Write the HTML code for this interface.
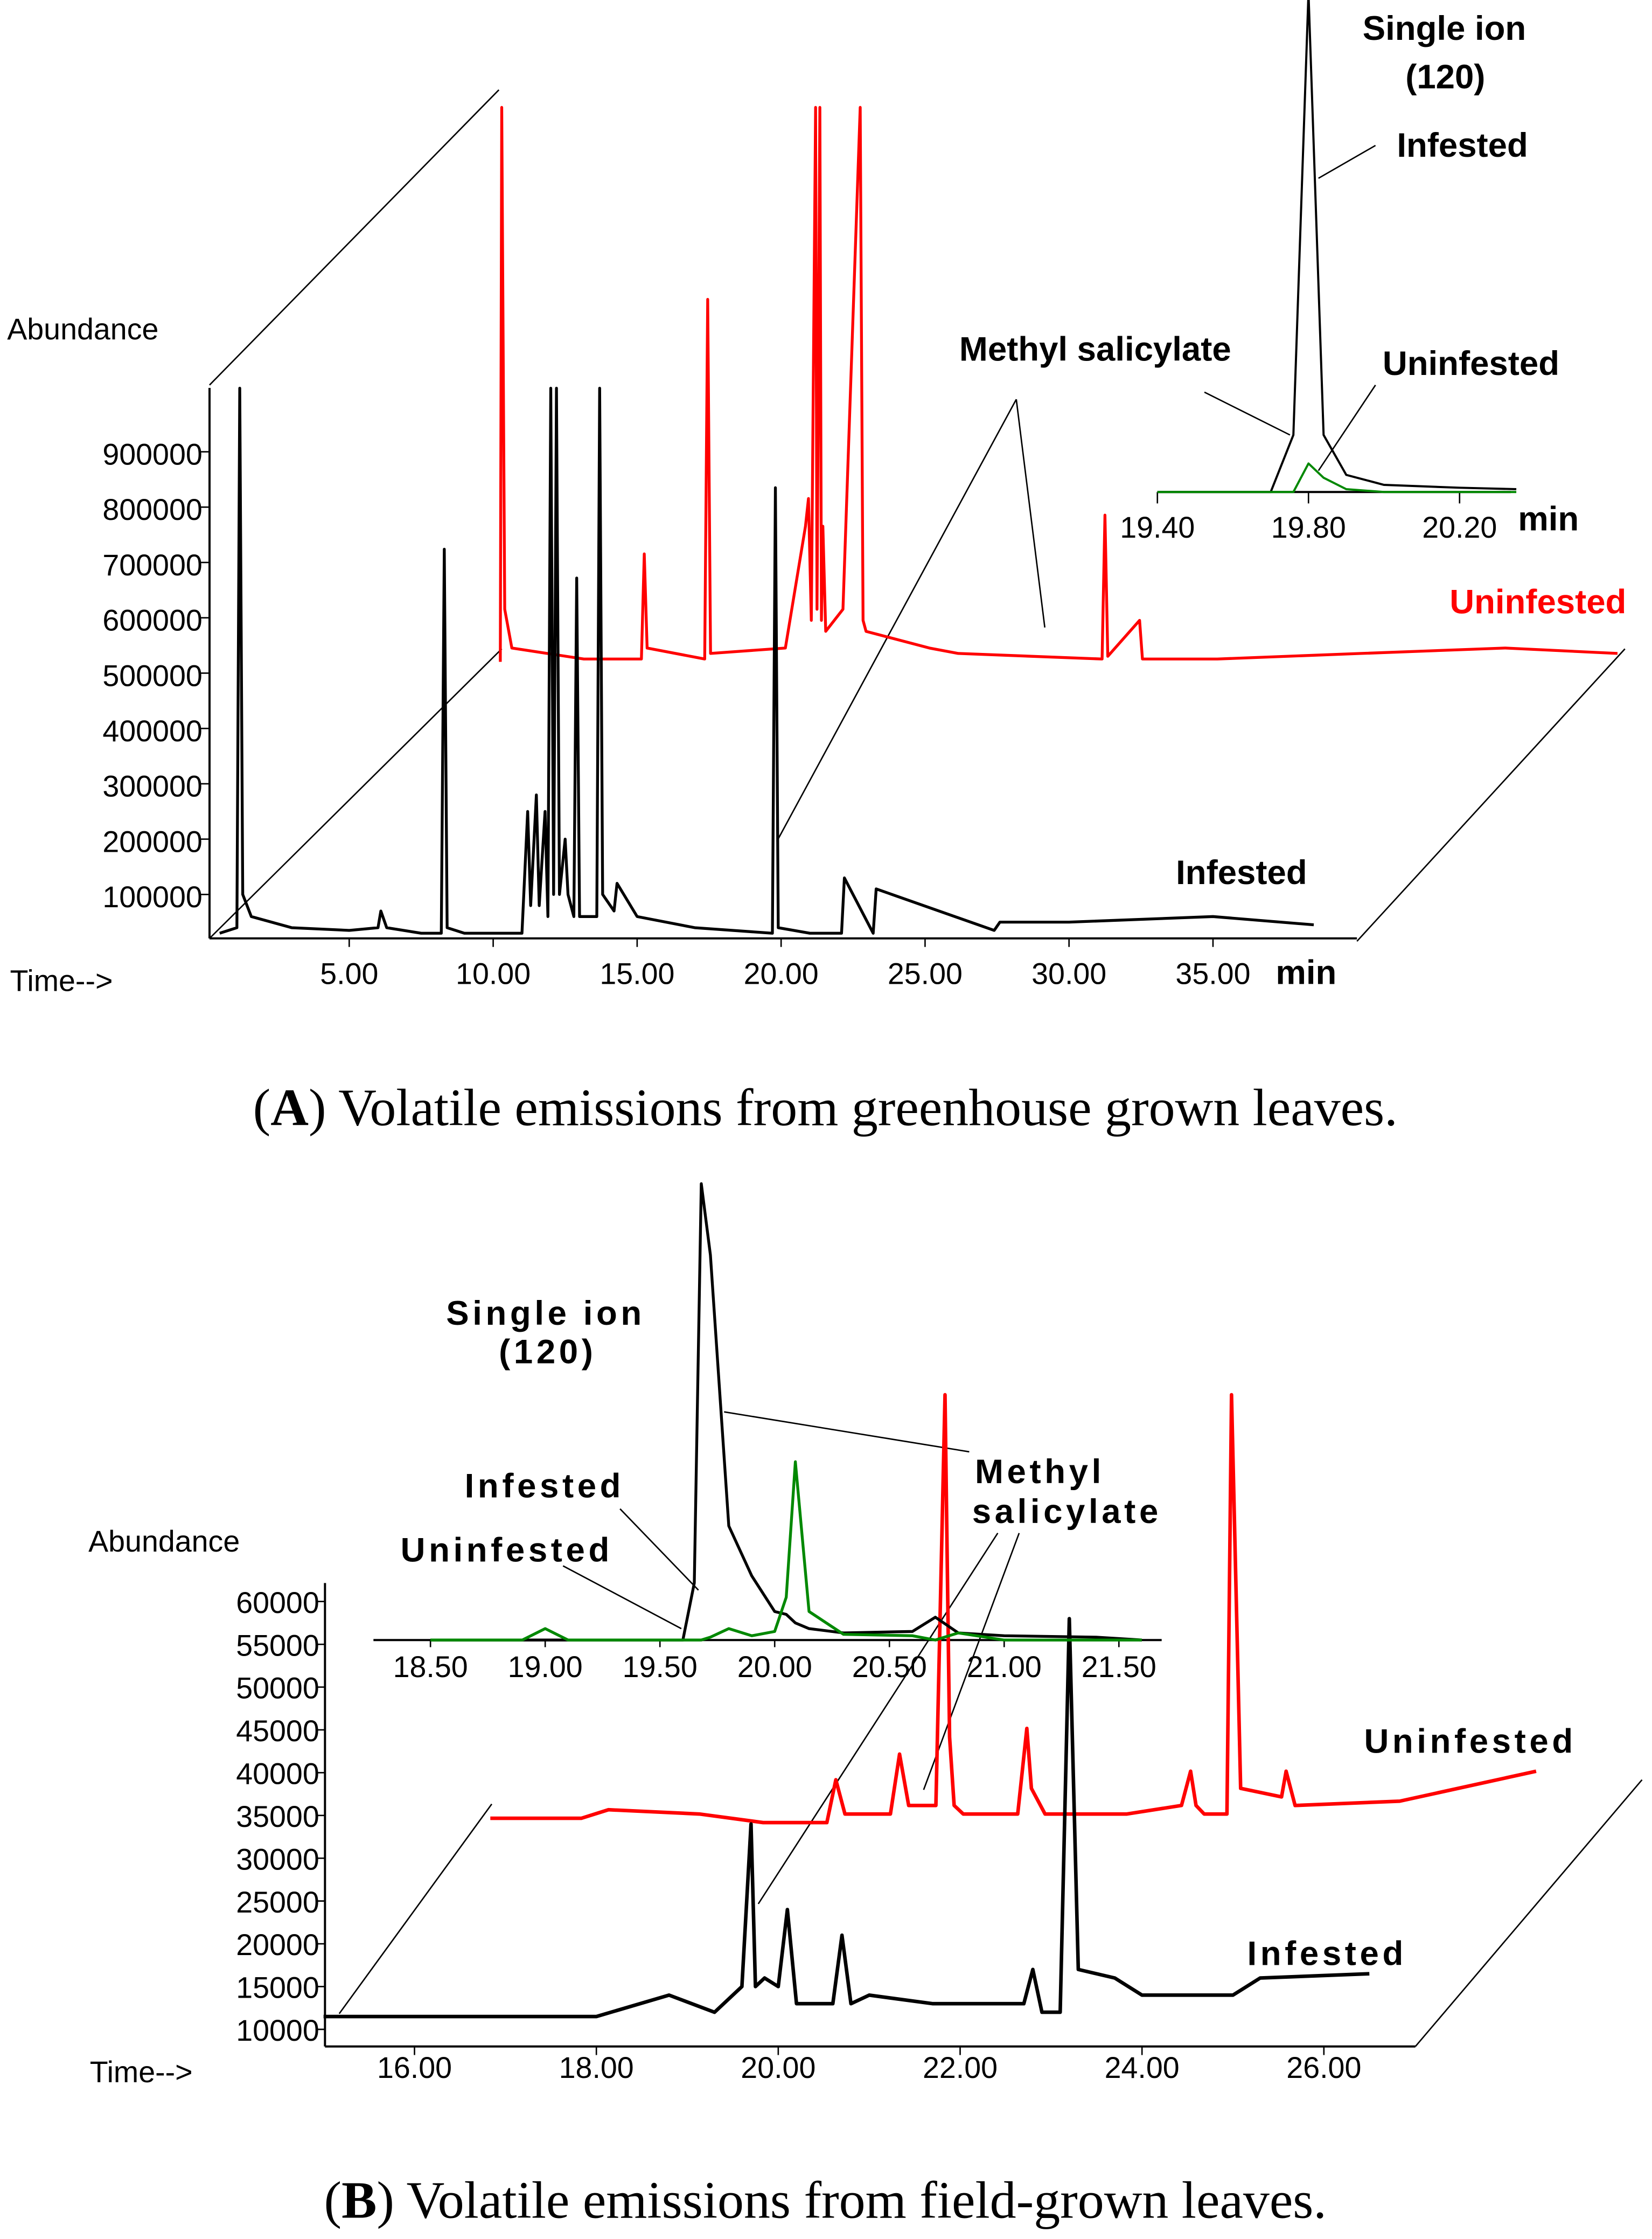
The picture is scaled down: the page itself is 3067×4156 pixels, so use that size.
<!DOCTYPE html>
<html><head><meta charset="utf-8"><style>
html,body{margin:0;padding:0;background:#fff;}
svg{display:block;}
.t{font-family:"Liberation Sans",sans-serif;font-size:21px;fill:#000;}
.b{font-family:"Liberation Sans",sans-serif;font-size:24px;font-weight:bold;fill:#000;}
.bb{font-family:"Liberation Sans",sans-serif;font-size:24px;font-weight:bold;fill:#000;letter-spacing:2.5px;}
.c{font-family:"Liberation Serif",serif;font-size:37px;fill:#000;}
</style></head><body>
<svg id="s" width="3067" height="4156" viewBox="0 0 1159 1570" preserveAspectRatio="none" xmlns="http://www.w3.org/2000/svg">
<g id="gA">
<text class="t" x="5" y="238">Abundance</text>
<text class="t" x="7" y="695">Time--&gt;</text>
<text class="b" x="895" y="690">min</text>
<line x1="147" y1="272" x2="147" y2="658" stroke="#000" stroke-width="1.5"/>
<line x1="147" y1="658" x2="952" y2="658" stroke="#000" stroke-width="1.5"/>
<line x1="147" y1="270" x2="350" y2="63" stroke="#000"/>
<line x1="147" y1="658" x2="352" y2="455" stroke="#000"/>
<line x1="952" y1="660" x2="1140" y2="455" stroke="#000"/>
<text class="b" x="825" y="620">Infested</text>
<text class="b" x="1017" y="430" style="fill:#f00">Uninfested</text>
<text class="b" x="673" y="253">Methyl salicylate</text>
<polyline points="713,280 545,590" fill="none" stroke="#000"/>
<polyline points="713,280 733,440" fill="none" stroke="#000"/>
<text class="b" x="956" y="28">Single ion</text>
<text class="b" x="986" y="62">(120)</text>
<text class="b" x="980" y="110">Infested</text>
<text class="b" x="970" y="263">Uninfested</text>
<line x1="925" y1="125" x2="965" y2="102" stroke="#000"/>
<line x1="845" y1="275" x2="905" y2="305" stroke="#000"/>
<line x1="925" y1="330" x2="965" y2="270" stroke="#000"/>
<line x1="812" y1="345" x2="1060" y2="345" stroke="#000" stroke-width="1.5"/>
<text class="b" x="1065" y="372">min</text>
</g>
<g id="gB">
<text class="t" x="62" y="1088">Abundance</text>
<text class="t" x="63" y="1460">Time--&gt;</text>
<line x1="228" y1="1110" x2="228" y2="1435" stroke="#000" stroke-width="1.5"/>
<line x1="228" y1="1435" x2="993" y2="1435" stroke="#000" stroke-width="1.5"/>
<line x1="238" y1="1412" x2="345" y2="1265" stroke="#000"/>
<line x1="993" y1="1435" x2="1152" y2="1248" stroke="#000"/>
<line x1="262" y1="1150" x2="815" y2="1150" stroke="#000" stroke-width="1.5"/>
<text class="bb" x="313" y="929">Single ion</text>
<text class="bb" x="350" y="956">(120)</text>
<text class="bb" x="326" y="1050">Infested</text>
<text class="bb" x="281" y="1095">Uninfested</text>
<text class="bb" x="684" y="1040">Methyl</text>
<text class="bb" x="682" y="1068">salicylate</text>
<text class="bb" x="957" y="1229">Uninfested</text>
<text class="bb" x="875" y="1378">Infested</text>
<line x1="508" y1="990" x2="680" y2="1018" stroke="#000"/>
<line x1="435" y1="1058" x2="490" y2="1115" stroke="#000"/>
<line x1="395" y1="1098" x2="478" y2="1142" stroke="#000"/>
<line x1="700" y1="1075" x2="532" y2="1335" stroke="#000"/>
<line x1="715" y1="1075" x2="648" y2="1255" stroke="#000"/>
</g>
<text class="c" x="579" y="789" text-anchor="middle">(<tspan font-weight="bold">A</tspan>) Volatile emissions from greenhouse grown leaves.</text>
<text class="c" x="579" y="1555" text-anchor="middle">(<tspan font-weight="bold">B</tspan>) Volatile emissions from field-grown leaves.</text>
</svg>
<script>
// Panel A data (time min, abundance)
const aTicksX=[5,10,15,20,25,30,35];
const aTicksY=[100000,200000,300000,400000,500000,600000,700000,800000,900000];
const aInfT=[0.5,1.1,1.2,1.3,1.6,3,5,6,6.1,6.3,7.5,8.2,8.3,8.4,9,11,11.2,11.3,11.5,11.6,11.8,11.9,12,12.1,12.2,12.3,12.5,12.6,12.8,12.9,13,13.6,13.7,13.8,14.2,14.3,15,17,19.7,19.8,19.9,21,22.1,22.2,23.2,23.3,27.4,27.6,30,35,38.5];
const aInfV=[30000,40000,1015000,100000,60000,40000,35000,40000,70000,40000,30000,30000,724000,40000,30000,30000,250000,80000,280000,80000,250000,60000,1015000,100000,1015000,100000,200000,100000,60000,672000,60000,60000,1015000,100000,70000,120000,60000,40000,30000,835000,40000,30000,30000,130000,30000,110000,35000,50000,50000,60000,45000];
const aUnT=[0.1,0.15,0.25,0.5,3,5.0,5.1,5.2,7.2,7.3,7.4,10,10.7,10.8,10.9,11.05,11.1,11.2,11.25,11.3,11.4,12,12.6,12.7,12.8,15,16,21,21.1,21.2,22.3,22.4,25,30,35,38.9];
const aUnV=[5000,1007000,100000,30000,10000,10000,200000,30000,10000,660000,20000,30000,250000,300000,80000,1007000,100000,1007000,80000,250000,60000,100000,1007000,80000,60000,30000,20000,10000,270000,15000,80000,10000,10000,20000,30000,20000];
// Inset A
const aInsT=[19.4,19.7,19.76,19.8,19.84,19.9,20.0,20.2,20.35];
const aInsInf=[0,0,40,350,40,12,5,3,2];
const aInsUn=[0,0,0,20,10,2,0,0,0];
const aInsTicks=[19.4,19.8,20.2];
// Panel B data
const bTicksX=[16,18,20,22,24,26];
const bTicksY=[10000,15000,20000,25000,30000,35000,40000,45000,50000,55000,60000];
const bInfT=[15,16,17,18,18.8,19.3,19.6,19.7,19.75,19.85,20.0,20.1,20.2,20.6,20.7,20.8,21,21.7,22.7,22.8,22.9,23.1,23.2,23.3,23.7,24,25,25.3,26.5];
const bInfV=[11500,11500,11500,11500,14000,12000,15000,34000,15000,16000,15000,24000,13000,13000,21000,13000,14000,13000,13000,17000,12000,12000,58000,17000,16000,14000,14000,16000,16500];
const bUnT=[15,16,16.3,17.3,18,18.7,18.8,18.9,19.4,19.5,19.6,19.9,20.0,20.05,20.1,20.2,20.8,20.9,20.95,21.0,21.1,22.0,22.6,22.7,22.76,22.85,23.1,23.15,23.25,23.7,23.75,23.85,25,26.5];
const bUnV=[10500,10500,11500,11000,10000,10000,15000,11000,11000,18000,12000,12000,60000,20000,12000,11000,11000,21000,14000,13000,11000,11000,12000,16000,12000,11000,11000,60000,14000,13000,16000,12000,12500,16000];
// Inset B (pixel-relative heights above inset baseline)
const bInsT=[18.5,18.9,19.0,19.1,19.6,19.65,19.68,19.72,19.8,19.9,20.0,20.05,20.09,20.15,20.3,20.6,20.7,20.8,21.0,21.4,21.6];
const bInsInf=[0,0,0,0,0,40,320,270,80,45,20,18,12,8,5,6,16,5,3,2,0];
const bInsUn=[0,0,8,0,0,0,0,2,8,3,6,30,125,20,4,3,0,5,0,0,0];
const bInsTicks=[18.5,19,19.5,20,20.5,21,21.5];

const svg=document.getElementById('s');const NS='http://www.w3.org/2000/svg';
function mk(tag,at,par){const e=document.createElementNS(NS,tag);for(const k in at)e.setAttribute(k,at[k]);(par||svg).appendChild(e);return e;}
const axA=t=>144+20.2*t, ayA=v=>666-v*0.000388;
const uxA=t=>349+20.2*t, uyA=v=>466-v*0.000388;
const ixA=t=>812+(t-19.4)*265, iyA=v=>345-v;
const axB=t=>227+(t-15)*63.8, ayB=v=>1423-(v-10000)*0.006;
const uxB=t=>344+(t-15)*63.8, uyB=v=>1278-(v-10000)*0.006;
const ixB=t=>302+(t-18.5)*161, iyB=v=>1150-v;
function line(T,V,fx,fy,col,w,name){
 const p=T.map((t,i)=>fx(t).toFixed(1)+','+fy(V[i]).toFixed(1)).join(' ');
 const e=mk('polyline',{points:p,fill:'none',stroke:col,'stroke-width':w,'stroke-linejoin':'round'});
 
 
}
function tick(x1,y1,x2,y2){mk('line',{x1,y1,x2,y2,stroke:'#000'});}
function txt(x,y,s,anchor,name){const e=mk('text',{x,y,class:'t','text-anchor':anchor});e.textContent=s;
 
 }
aTicksX.forEach(t=>{tick(axA(t),658,axA(t),664);txt(axA(t),690,t.toFixed(2),'middle','a-x-tick');});
aTicksY.forEach(v=>{tick(141,ayA(v),147,ayA(v));txt(142,ayA(v)+9,String(v),'end','a-y-tick');});
aInsTicks.forEach(t=>{tick(ixA(t),345,ixA(t),353);txt(ixA(t),377,t.toFixed(2),'middle','a-inset-tick');});
bTicksX.forEach(t=>{tick(axB(t),1435,axB(t),1441);txt(axB(t),1457,t.toFixed(2),'middle','b-x-tick');});
bTicksY.forEach(v=>{tick(222,ayB(v),228,ayB(v));txt(224,ayB(v)+8,String(v),'end','b-y-tick');});
bInsTicks.forEach(t=>{tick(ixB(t),1150,ixB(t),1155);txt(ixB(t),1176,t.toFixed(2),'middle','b-inset-tick');});
line(aUnT,aUnV,uxA,uyA,'#f00',2,'a-uninfested-trace');
line(aInfT,aInfV,axA,ayA,'#000',2,'a-infested-trace');
line(aInsT,aInsInf,ixA,iyA,'#000',1.5,'a-inset-infested-trace');
line(aInsT,aInsUn,ixA,iyA,'#080',1.5,'a-inset-uninfested-trace');
line(bUnT,bUnV,uxB,uyB,'#f00',2.5,'b-uninfested-trace');
line(bInfT,bInfV,axB,ayB,'#000',2.5,'b-infested-trace');
line(bInsT,bInsInf,ixB,iyB,'#000',2,'b-inset-infested-trace');
line(bInsT,bInsUn,ixB,iyB,'#080',2,'b-inset-uninfested-trace');
</script>
</body></html>
